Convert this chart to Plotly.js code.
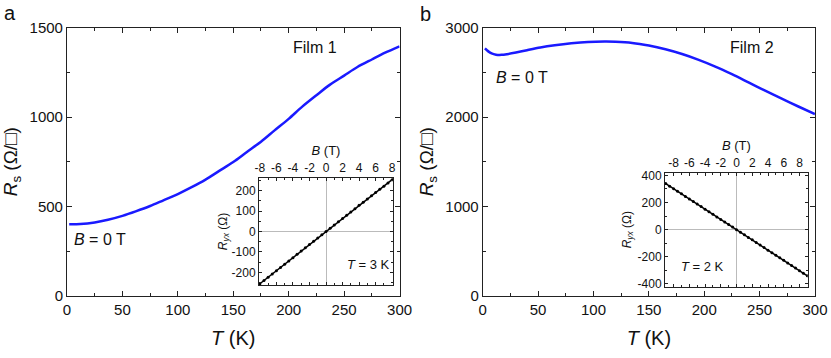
<!DOCTYPE html>
<html>
<head>
<meta charset="utf-8">
<script src="https://cdn.plot.ly/plotly-3.0.1.min.js"></script>
<style>
  html, body { margin: 0; padding: 0; background: #fff; }
  #chart { width: 831px; height: 358px; }
</style>
</head>
<body>
<div id="chart"></div>
<script>
// Film 1, sheet resistance vs temperature at B = 0 T
const film1T = [2, 12, 25, 37, 50, 62, 75, 87, 100, 112, 125, 137, 150, 162, 175, 187, 200, 212, 225, 237, 250, 262, 275, 287, 300];
const film1Rs = [400, 401, 410, 425, 447, 472, 502, 534, 569, 606, 650, 697, 748, 803, 862, 924, 990, 1057, 1122, 1180, 1232, 1280, 1322, 1360, 1396];

// Film 2
const film2T = [2, 5, 8, 12, 17, 22, 30, 40, 52, 65, 80, 95, 110, 120, 135, 150, 165, 180, 195, 210, 225, 240, 255, 270, 285, 300];
const film2Rs = [2768, 2735, 2712, 2698, 2696, 2704, 2722, 2748, 2778, 2803, 2825, 2840, 2845, 2843, 2830, 2800, 2758, 2705, 2640, 2565, 2480, 2388, 2295, 2205, 2118, 2033];

// Inset a: Hall resistance at T = 3 K
const hallAB = [-8, -7.5, -7, -6.5, -6, -5.5, -5, -4.5, -4, -3.5, -3, -2.5, -2, -1.5, -1, -0.5, 0, 0.5, 1, 1.5, 2, 2.5, 3, 3.5, 4, 4.5, 5, 5.5, 6, 6.5, 7, 7.5, 8];
const hallARyx = [-256, -240, -224, -208, -192, -176, -160, -144, -128, -112, -96, -80, -64, -48, -32, -16, 0, 16, 32, 48, 64, 80, 96, 112, 128, 143, 159, 175, 191, 207, 222, 238, 254];

// Inset b: Hall resistance at T = 2 K
const hallBB = [-9, -8.5, -8, -7.5, -7, -6.5, -6, -5.5, -5, -4.5, -4, -3.5, -3, -2.5, -2, -1.5, -1, -0.5, 0, 0.5, 1, 1.5, 2, 2.5, 3, 3.5, 4, 4.5, 5, 5.5, 6, 6.5, 7, 7.5, 8, 8.5, 9];
const hallBRyx = [340, 321, 302, 283, 264, 245, 226, 207, 189, 170, 151, 132, 113, 94, 75, 57, 38, 19, 0, -19, -38, -57, -75, -94, -113, -132, -151, -170, -189, -207, -226, -245, -264, -283, -302, -321, -340];

// Inset tick labels (plain hyphen minus, as in the figure)
const fieldTicks = [-8, -6, -4, -2, 0, 2, 4, 6, 8];
const fieldTickText = ["-8", "-6", "-4", "-2", "0", "2", "4", "6", "8"];
const hallATicks = [-200, -100, 0, 100, 200];
const hallATickText = ["-200", "-100", "0", "100", "200"];
const hallBTicks = [-400, -200, 0, 200, 400];
const hallBTickText = ["-400", "-200", "0", "200", "400"];

const FONT = "Liberation Sans, Arial, sans-serif";
const FRAME = "#222";
const BLUE = "#1a1aff";

function mainAxis(domain, anchor, range, dtick, minorDtick, extra) {
  return Object.assign({
    domain,
    anchor,
    range,
    dtick,
    tick0: 0,
    ticks: "inside",
    ticklen: 5,
    tickwidth: 1,
    tickcolor: FRAME,
    minor: { dtick: minorDtick, ticks: "inside", ticklen: 3, tickcolor: FRAME },
    showline: true,
    linecolor: FRAME,
    linewidth: 1,
    mirror: "allticks",
    showgrid: false,
    zeroline: false,
    tickfont: { family: FONT, size: 15, color: "#111" },
  }, extra);
}

function insetAxis(domain, anchor, range, tickvals, ticktext, minorDtick, extra) {
  return Object.assign({
    domain,
    anchor,
    range,
    tickmode: "array",
    tickvals,
    ticktext,
    tickangle: 0,
    ticks: "inside",
    ticklen: 3,
    tickwidth: 1,
    tickcolor: FRAME,
    minor: { tickmode: "linear", tick0: 0, dtick: minorDtick, ticks: "inside", ticklen: 2, tickcolor: FRAME },
    showline: true,
    linecolor: FRAME,
    linewidth: 1,
    mirror: "allticks",
    showgrid: false,
    zeroline: true,
    zerolinecolor: "#bbb",
    zerolinewidth: 1,
    tickfont: { family: FONT, size: 12, color: "#111" },
  }, extra);
}

const traces = [
  { x: film1T, y: film1Rs, xaxis: "x", yaxis: "y", type: "scatter", mode: "lines",
    line: { color: BLUE, width: 2.5, shape: "spline", smoothing: 0.8 } },
  { x: film2T, y: film2Rs, xaxis: "x2", yaxis: "y2", type: "scatter", mode: "lines",
    line: { color: BLUE, width: 2.5, shape: "spline", smoothing: 0.8 } },
  { x: hallAB, y: hallARyx, xaxis: "x3", yaxis: "y3", type: "scatter", mode: "lines+markers",
    line: { color: "#000", width: 1.5 }, marker: { color: "#000", size: 3 } },
  { x: hallBB, y: hallBRyx, xaxis: "x4", yaxis: "y4", type: "scatter", mode: "lines+markers",
    line: { color: "#000", width: 1.5 }, marker: { color: "#000", size: 3 } },
];

const mainY = [0.174, 0.9226];
const yTitle = { text: "<i>R</i><sub>s</sub> (Ω/□)", font: { family: FONT, size: 19, color: "#111" }, standoff: 6 };
const xTitle = { text: "<i>T</i> (K)", font: { family: FONT, size: 20, color: "#111" }, standoff: 14 };
const bTitle = { text: "<i>B</i> (T)", font: { family: FONT, size: 13, color: "#111" }, standoff: 2 };
const ryxTitleA = { text: "<i>R</i><sub><i>yx</i></sub> (Ω)", font: { family: FONT, size: 12, color: "#111" }, standoff: 1 };
const ryxTitleB = { text: "<i>R</i><sub><i>yx</i></sub> (Ω)", font: { family: FONT, size: 12, color: "#111" }, standoff: 3 };

function note(text, px, py, size, xanchor) {
  return {
    text,
    xref: "paper",
    yref: "paper",
    x: px / 831,
    y: 1 - py / 358,
    xanchor: xanchor || "center",
    yanchor: "middle",
    showarrow: false,
    font: { family: FONT, size, color: "#111" },
  };
}

const layout = {
  width: 831,
  height: 358,
  margin: { l: 0, r: 0, t: 0, b: 0 },
  paper_bgcolor: "#fff",
  plot_bgcolor: "#fff",
  showlegend: false,
  xaxis: mainAxis([0.0806, 0.4808], "y", [0, 300], 50, 25, { title: xTitle }),
  yaxis: mainAxis(mainY, "x", [0, 1500], 500, 250, { title: yTitle }),
  xaxis2: mainAxis([0.5809, 0.9807], "y2", [0, 300], 50, 25, { title: xTitle }),
  yaxis2: mainAxis(mainY, "x2", [0, 3000], 1000, 500, { title: yTitle }),
  xaxis3: insetAxis([0.3117, 0.4729], "y3", [-8.1, 8.1], fieldTicks, fieldTickText, 1, { side: "top", title: bTitle }),
  yaxis3: insetAxis([0.2039, 0.5028], "x3", [-262, 262], hallATicks, hallATickText, 50, { title: ryxTitleA }),
  xaxis4: insetAxis([0.8002, 0.972], "y4", [-9.1, 9.05], fieldTicks, fieldTickText, 1, { side: "top", title: bTitle }),
  yaxis4: insetAxis([0.1992, 0.5176], "x4", [-420, 420], hallBTicks, hallBTickText, 100, { title: ryxTitleB }),
  annotations: [
    note("a", 10, 13, 20),
    note("b", 425, 14, 20),
    note("Film 1", 315, 48, 16),
    note("Film 2", 752, 48, 16),
    note("<i>B</i> = 0 T", 100, 240, 16),
    note("<i>B</i> = 0 T", 522, 78, 16),
    note("<i>T</i> = 3 K", 368, 264, 13),
    note("<i>T</i> = 2 K", 702, 266, 13),
  ],
};

Plotly.newPlot("chart", traces, layout, { staticPlot: true, displayModeBar: false });
</script>
</body>
</html>
